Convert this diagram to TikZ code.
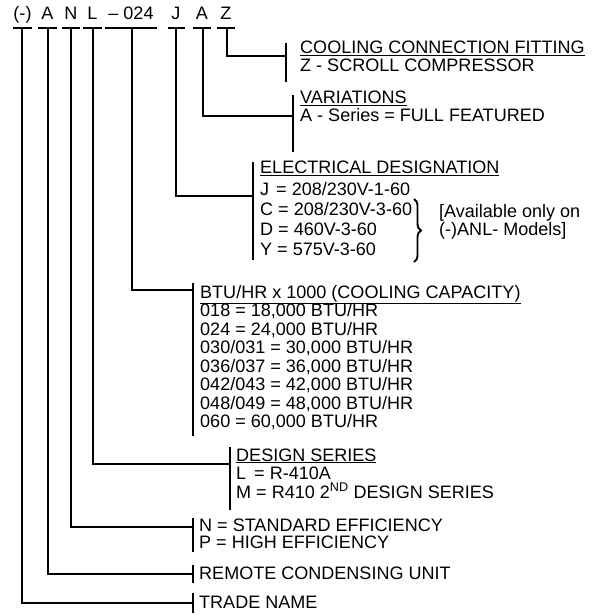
\documentclass[tikz,border=0pt]{standalone}
\usepackage{fontspec}
\setmainfont{Liberation Sans}
\usetikzlibrary{decorations.pathreplacing}
\newcommand{\ul}[1]{\underline{#1}}
\begin{document}
\begin{tikzpicture}[x=1bp,y=-1bp,
  txt/.style={anchor=base west, inner sep=0pt, font=\fontsize{18.1}{19}\selectfont},
  code/.style={anchor=base, inner sep=0pt, font=\fontsize{18.1}{19}\selectfont},
  lead/.style={line width=2.2bp, line cap=butt},
  uline/.style={line width=2.2bp},
  bar/.style={line width=2.6bp}]
\useasboundingbox[fill=white] (0,0) rectangle (608,616);

% code letters
\node[code] (c1) at (22.5,20) {(-)};
\node[code] (c2) at (47.5,20) {A};
\node[code] (c3) at (71,20) {N};
\node[code] (c4) at (92.5,20) {L};
\node[code] (c5) at (131,20) {\textendash\ 024};
\node[code] (c6) at (176,20) {J};
\node[code] (c7) at (202,20) {A};
\node[code] (c8) at (226,20) {Z};

% underlines under the code letters
\draw[uline] (13,28) -- (32,28);
\draw[uline] (38,28) -- (57,28);
\draw[uline] (62,28) -- (80,28);
\draw[uline] (83,28) -- (102,28);
\draw[uline] (105,28) -- (157,28);
\draw[uline] (168,28) -- (185,28);
\draw[uline] (193,28) -- (211,28);
\draw[uline] (217,28) -- (235,28);

\coordinate (u1) at (22,28);
\coordinate (u2) at (48,28);
\coordinate (u3) at (71,28);
\coordinate (u4) at (93,28);
\coordinate (u5) at (132,28);
\coordinate (u6) at (176,28);
\coordinate (u7) at (203,28);
\coordinate (u8) at (227,28);

% bars
\coordinate (b8t) at (286,43); \coordinate (b8b) at (286,82); \coordinate (b8) at (286,56);
\coordinate (b7t) at (293,95); \coordinate (b7b) at (293,152); \coordinate (b7) at (293,116);
\coordinate (b6t) at (253,162); \coordinate (b6b) at (253,260); \coordinate (b6) at (253,196);
\coordinate (b5t) at (193,283); \coordinate (b5b) at (193,436); \coordinate (b5) at (193,290);
\coordinate (b4t) at (230,447); \coordinate (b4b) at (230,510); \coordinate (b4) at (230,464);
\coordinate (b3t) at (193,518); \coordinate (b3b) at (193,552); \coordinate (b3) at (193,527);
\coordinate (b2t) at (193,565); \coordinate (b2b) at (193,583); \coordinate (b2) at (193,574);
\coordinate (b1t) at (193,593); \coordinate (b1b) at (193,613); \coordinate (b1) at (193,603);

\foreach \i in {1,...,8} {\draw[bar] (b\i t) -- (b\i b);}

% connectors
\draw[lead] (u1) |- (b1);
\draw[lead] (u2) |- (b2);
\draw[lead] (u3) |- (b3);
\draw[lead] (u4) |- (b4);
\draw[lead] (u5) |- (b5);
\draw[lead] (u6) |- (b6);
\draw[lead] (u7) |- (b7);
\draw[lead] (u8) |- (b8);

% descriptions
\node[txt] (z1) at (300,53.5) {\ul{COOLING CONNECTION FITTING}};
\node[txt] (z2) at (300,71.5) {Z - SCROLL COMPRESSOR};

\node[txt] (a1) at (300,104) {\ul{VARIATIONS}};
\node[txt] (a2) at (300,122) {A - Series = FULL FEATURED};

\node[txt] (j1) at (260,174) {\ul{ELECTRICAL DESIGNATION}};
\node[txt] (j2) at (260,195) {J\hspace{2bp} = 208/230V-1-60};
\node[txt] (j3) at (260,215) {C = 208/230V-3-60};
\node[txt] (j4) at (260,235) {D = 460V-3-60};
\node[txt] (j5) at (260,255) {Y = 575V-3-60};
\draw[line width=1.9bp, decorate, decoration={brace, amplitude=7bp}] (414,199) -- (414,262);
\node[txt] (j6) at (439,217.5) {[Available only on};
\node[txt] (j7) at (439,235.5) {(-)ANL- Models]};

\node[txt] (k1) at (200,298) {\ul{BTU/HR x 1000 (COOLING CAPACITY)}};
\node[txt] (k2) at (200,316.5) {018 = 18,000 BTU/HR};
\node[txt] (k3) at (200,335) {024 = 24,000 BTU/HR};
\node[txt] (k4) at (200,353.5) {030/031 = 30,000 BTU/HR};
\node[txt] (k5) at (200,372) {036/037 = 36,000 BTU/HR};
\node[txt] (k6) at (200,390.5) {042/043 = 42,000 BTU/HR};
\node[txt] (k7) at (200,409) {048/049 = 48,000 BTU/HR};
\node[txt] (k8) at (200,427.5) {060 = 60,000 BTU/HR};

\node[txt] (l1) at (236,461) {\ul{DESIGN SERIES}};
\node[txt] (l2) at (236,479.5) {L\hspace{3bp} = R-410A};
\node[txt] (l3) at (236,498) {M = R410 2\textsuperscript{ND} DESIGN SERIES};

\node[txt] (n1) at (199,531.5) {N = STANDARD EFFICIENCY};
\node[txt] (n2) at (199,548.5) {P = HIGH EFFICIENCY};

\node[txt] (r1) at (199,579.5) {REMOTE CONDENSING UNIT};
\node[txt] (t1) at (199,608.5) {TRADE NAME};
\end{tikzpicture}
\end{document}
